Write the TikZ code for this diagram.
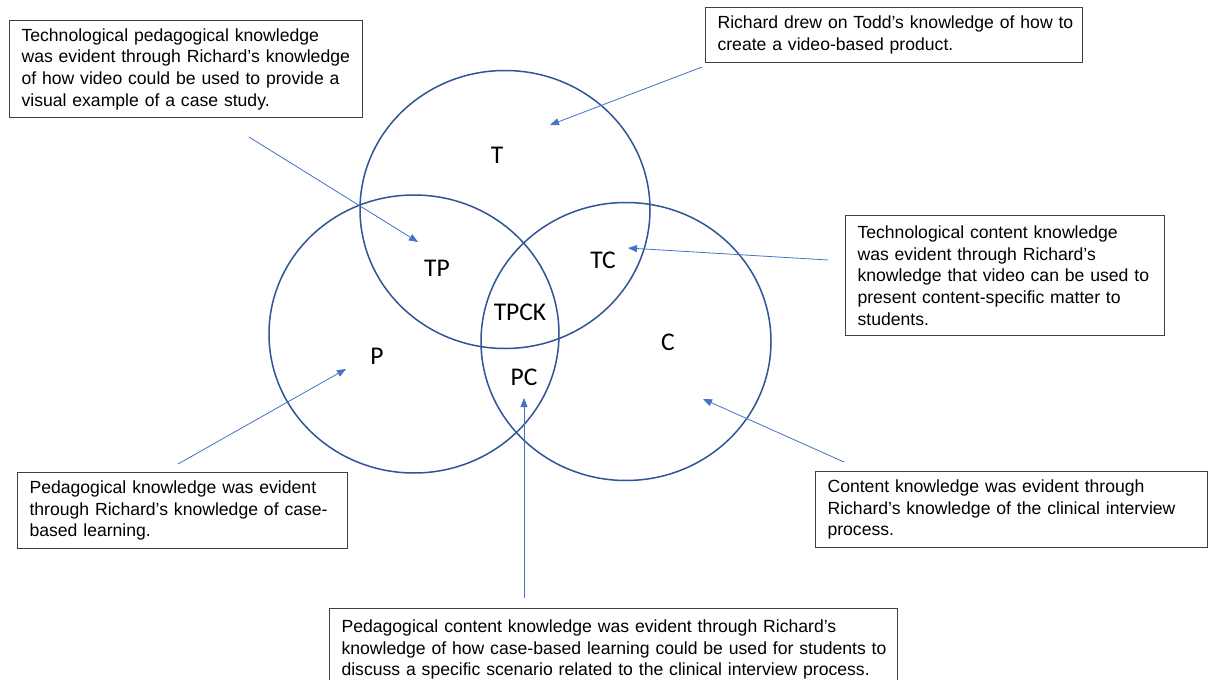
\documentclass[tikz,border=0pt]{standalone}
\usepackage{fontspec}
\setmainfont{Liberation Sans}
\newfontfamily\labelfont{Carlito}
\usetikzlibrary{shapes.geometric,arrows.meta}
\definecolor{vennblue}{HTML}{2F5597}
\definecolor{arrowblue}{HTML}{4472C4}
\definecolor{boxline}{HTML}{404040}

\begin{document}
\begin{tikzpicture}[x=1pt,y=-1pt,
  venn/.style={ellipse, draw=vennblue, line width=1.5pt, minimum width=290pt,
    minimum height=278pt, inner sep=0pt},
  setlabel/.style={font=\labelfont\fontsize{25.5}{30}\selectfont, inner sep=0pt},
  note/.style={draw=boxline, line width=1.1pt, anchor=north west, align=left,
    inner xsep=12pt, inner ysep=0pt, font=\fontsize{17.6}{21.7}\selectfont},
  pointer/.style={draw=arrowblue, line width=0.8pt, -{Triangle[length=9pt,width=7pt]}}]

\fill[white] (0,0) rectangle (1208,680);
\useasboundingbox (0,0) rectangle (1208,680);

% the three knowledge domains
\node[venn] (T) at (505,209.5) {};
\node[venn] (P) at (414,334) {};
\node[venn] (C) at (626,341.5) {};

% region labels
\node[setlabel] (lT)    at (497,155) {T};
\node[setlabel] (lTP)   at (437,268) {TP};
\node[setlabel] (lTC)   at (603,260) {TC};
\node[setlabel] (lTPCK) at (520,312) {TPCK};
\node[setlabel] (lP)    at (377,356) {P};
\node[setlabel] (lPC)   at (524,377) {PC};
\node[setlabel] (lC)    at (668,342) {C};

% explanatory notes
\node[note, text width=329pt, minimum height=97pt] (nTP) at (9,20)
  {\mbox{Technological pedagogical knowledge}\\
   \mbox{was evident through Richard’s knowledge}\\
   \mbox{of how video could be used to provide a}\\
   \mbox{visual example of a case study.}};
\node[note, text width=353pt, minimum height=55pt] (nT) at (705,7)
  {\mbox{Richard drew on Todd’s knowledge of how to}\\
   \mbox{create a video-based product.}};
\node[note, text width=295pt, minimum height=120pt] (nTC) at (845,215)
  {\mbox{Technological content knowledge}\\
   \mbox{was evident through Richard’s}\\
   \mbox{knowledge that video can be used to}\\
   \mbox{present content-specific matter to}\\
   \mbox{students.}};
\node[note, text width=306pt, minimum height=76pt] (nP) at (17,472)
  {\mbox{Pedagogical knowledge was evident}\\
   \mbox{through Richard’s knowledge of case-}\\
   \mbox{based learning.}};
\node[note, text width=368pt, minimum height=76pt] (nC) at (815,471)
  {\mbox{Content knowledge was evident through}\\
   \mbox{Richard’s knowledge of the clinical interview}\\
   \mbox{process.}};
\node[note, text width=544pt, minimum height=82pt] (nPC) at (329,608)
  {\mbox{Pedagogical content knowledge was evident through Richard’s}\\
   \mbox{knowledge of how case-based learning could be used for students to}\\
   \mbox{discuss a specific scenario related to the clinical interview process.}};

% pointer ends
\coordinate (sTP) at (249,137);  \coordinate (eTP) at (418,242);
\coordinate (sT)  at (702,67);   \coordinate (eT)  at (550,125);
\coordinate (sTC) at (828,260);  \coordinate (eTC) at (628,248);
\coordinate (sP)  at (178,464);  \coordinate (eP)  at (346,369);
\coordinate (sC)  at (844,462);  \coordinate (eC)  at (703,399);
\coordinate (sPC) at (524,598);  \coordinate (ePC) at (524,398);

\draw[pointer] (sTP) -- (eTP);
\draw[pointer] (sT)  -- (eT);
\draw[pointer] (sTC) -- (eTC);
\draw[pointer] (sP)  -- (eP);
\draw[pointer] (sC)  -- (eC);
\draw[pointer] (sPC) -- (ePC);
\end{tikzpicture}
\end{document}
